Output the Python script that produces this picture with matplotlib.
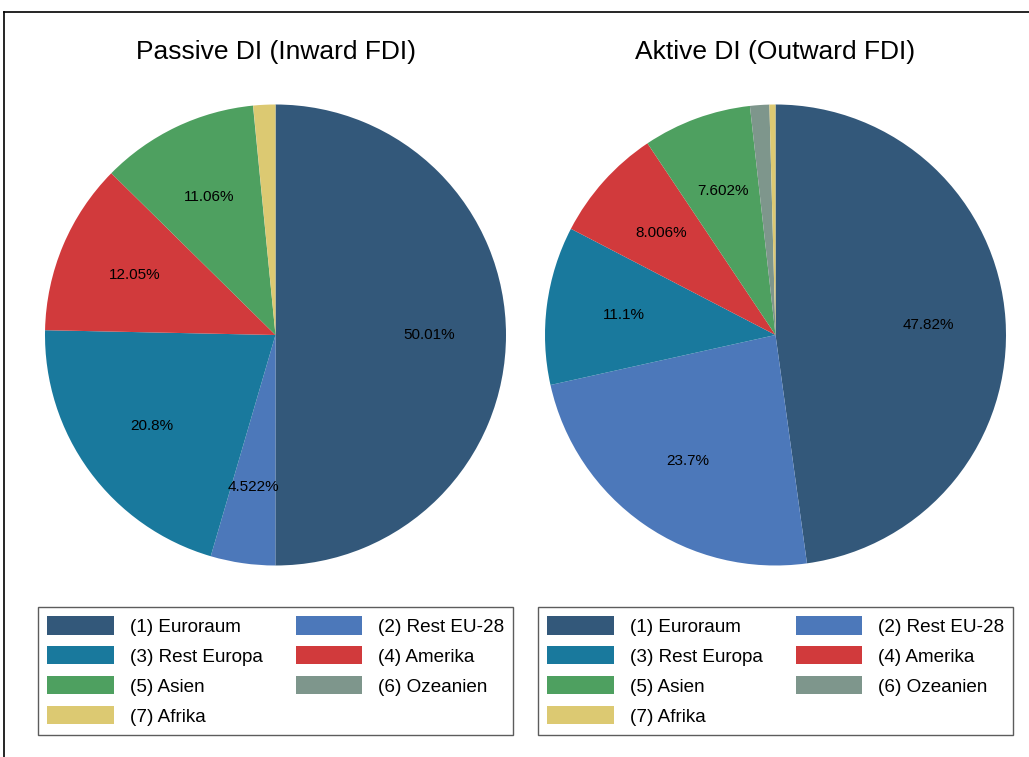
import matplotlib.pyplot as plt
from matplotlib.patches import Patch
from matplotlib.lines import Line2D

plt.rcParams['font.family'] = ['Liberation Sans', 'DejaVu Sans']

regions = ['(1) Euroraum', '(2) Rest EU-28', '(3) Rest Europa', '(4) Amerika',
           '(5) Asien', '(6) Ozeanien', '(7) Afrika']
colors = ['#33587a', '#4c78ba', '#19799d', '#d13a3c', '#4ea060', '#7e968c', '#dcc972']

passive_share = [50.01, 4.522, 20.8, 12.05, 11.06, 0.01, 1.548]
active_share = [47.82, 23.7, 11.1, 8.006, 7.602, 1.35, 0.422]

titles = ['Passive DI (Inward FDI)', 'Aktive DI (Outward FDI)']

W, H = 1029, 757
fig = plt.figure(figsize=(W / 100, H / 100), dpi=100)


def px_axes(cx, cy, r):
    return fig.add_axes([(cx - r) / W, (H - cy - r) / H, 2 * r / W, 2 * r / H])


def label_fmt(p):
    return f'{p:.4g}%' if p > 3 else ''


panels = [(275.5, 335, passive_share), (775.5, 335, active_share)]
for (cx, cy, shares), title in zip(panels, titles):
    ax = px_axes(cx, cy, 230.5)
    ax.pie(shares, colors=colors, startangle=90, counterclock=False,
           autopct=label_fmt, pctdistance=0.665, radius=1.0,
           wedgeprops=dict(linewidth=0),
           textprops=dict(fontsize=11, color='black'))
    ax.set_xlim(-1, 1)
    ax.set_ylim(-1, 1)
    ax.set_aspect('equal')
    ax.axis('off')
    fig.text(cx / W, (H - 52) / H, title, ha='center', va='center', fontsize=19)

# legend entries in column-major order so rows read 1-2, 3-4, 5-6, 7
order = [0, 2, 4, 6, 1, 3, 5]
handles = [Patch(facecolor=colors[i], edgecolor='none') for i in order]
labels = [regions[i] for i in order]

for left in (38, 538):
    leg = fig.legend(handles, labels, ncol=2, loc='upper left',
                     bbox_to_anchor=(left / W, (H - 607) / H),
                     fontsize=13.6, handlelength=3.5, handleheight=1.1,
                     handletextpad=0.85, columnspacing=1.75, labelspacing=0.55,
                     borderpad=0.5, borderaxespad=0, frameon=True, fancybox=False)
    frame = leg.get_frame()
    frame.set_edgecolor('#333333')
    frame.set_linewidth(1.0)

# outer frame lines (top and left)
fig.add_artist(Line2D([4 / W, 1], [(H - 12) / H, (H - 12) / H], color='black', lw=1.2))
fig.add_artist(Line2D([4 / W, 4 / W], [0, (H - 12) / H], color='black', lw=1.2))

fig.savefig('out.png', dpi=100)
